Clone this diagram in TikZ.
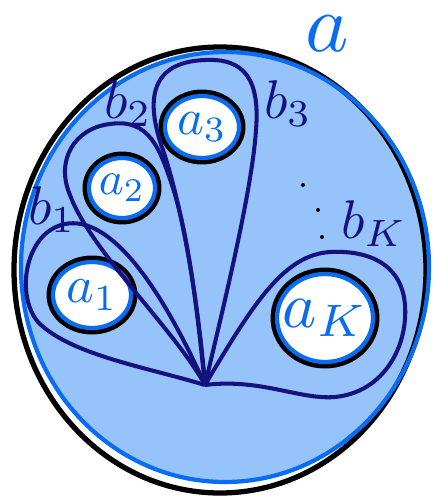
\documentclass[tikz,border=0pt]{standalone}
\usepackage{tikz}
\usetikzlibrary{shapes.geometric}
\definecolor{ablue}{HTML}{0A6CF0}
\definecolor{afill}{HTML}{96C3FA}
\definecolor{bnavy}{HTML}{15117E}
\tikzset{
  loop/.style={bnavy, line width=2.3pt, line join=round},
  pocket/.style={ellipse, inner sep=0pt, text=ablue},
  blab/.style={text=bnavy, scale=3.1},
}
\begin{document}
\begin{tikzpicture}[x=0.02cm, y=-0.02cm]
\useasboundingbox (0,0) rectangle (439,497);
\fill[afill] (225,267) ellipse (204 and 215);
\draw[black, line width=3pt] (220,270) ellipse (206 and 223);
\draw[ablue, line width=2.4pt] (225,267) ellipse (204 and 215);
\node[text=ablue, scale=4.7, inner sep=0pt] (la) at (327,34) {$a$};
% pockets a_i
\foreach \n/\x/\y/\rx/\ry/\s/\t in {a1/92/295/43/37/3.0/a_1, a2/122/188/37/34/2.7/a_2, a3/202/127/41/35/2.9/a_3, aK/325/318/52/48/3.7/a_K}{
  \fill[white] (\x,\y) ellipse [x radius=\rx, y radius=\ry];
  \draw[black, line width=2.8pt] (\x,\y) ellipse [x radius=\rx, y radius=\ry];
  \draw[ablue, line width=2.4pt] (\x,\y) ellipse [x radius=\rx-4, y radius=\ry-4];
  \node[pocket, scale=\s] (\n) at (\x,\y) {$\t$};
}
% loops b_i from the apex
\coordinate (p) at (205,385);
\draw[loop] (p) .. controls (150,368) and (70,355) .. (38,322)
  .. controls (15,295) and (25,232) .. (65,224)
  .. controls (110,215) and (160,285) .. (p);
\draw[loop] (p) .. controls (175,330) and (90,250) .. (70,195)
  .. controls (55,160) and (75,128) .. (110,124)
  .. controls (150,118) and (160,150) .. (172,185)
  .. controls (190,240) and (198,320) .. (p);
\draw[loop] (p) .. controls (200,320) and (185,215) .. (163,150)
  .. controls (145,100) and (150,62) .. (205,60)
  .. controls (245,58) and (260,80) .. (256,130)
  .. controls (252,190) and (225,300) .. (p);
\draw[loop] (p) .. controls (260,378) and (300,400) .. (335,397)
  .. controls (385,392) and (408,345) .. (405,305)
  .. controls (402,265) and (370,250) .. (330,252)
  .. controls (285,255) and (255,300) .. (p);
\node[blab] (b1) at (52,210) {$b_1$};
\node[blab] (b2) at (128,104) {$b_2$};
\node[blab] (b3) at (288,104) {$b_3$};
\node[blab] (bK) at (374,224) {$b_K$};
\foreach \x/\y in {303/185, 318/210, 322/237}
  \fill[black] (\x,\y) circle (2);
\end{tikzpicture}
\end{document}
